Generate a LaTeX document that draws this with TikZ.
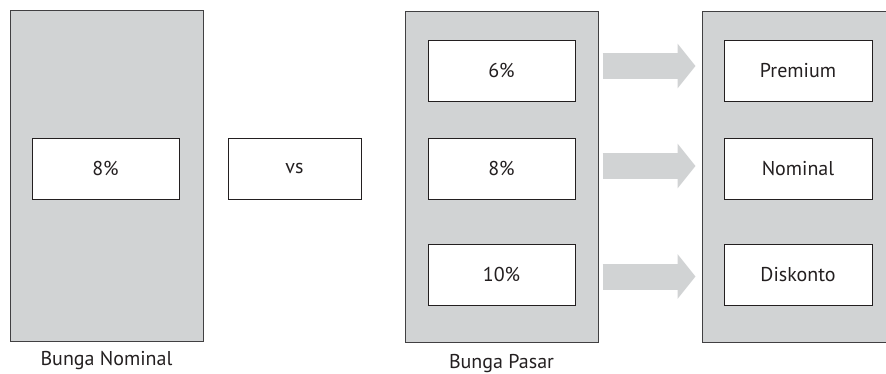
\documentclass[tikz,border=0pt]{standalone}
\usepackage{fontspec}
\setmainfont{PT Sans}
\usetikzlibrary{positioning,arrows.meta}

\definecolor{panelgray}{HTML}{D1D3D4}
\definecolor{linegray}{HTML}{414042}
\definecolor{textdark}{HTML}{231F20}

\tikzset{
  panel/.style={draw=linegray, fill=panelgray, line width=1pt, minimum width=193pt, minimum height=331pt, inner sep=0pt},
  ratebox/.style={draw=textdark, fill=white, line width=1pt, minimum width=147pt, minimum height=61pt, inner sep=0pt, text=textdark, font=\fontsize{20}{22}\selectfont},
  caption/.style={text=textdark, font=\fontsize{20}{22}\selectfont},
  blockarrow/.style={draw=panelgray, line width=26pt, -{Triangle[length=18pt,width=44pt]}}
}

\begin{document}
\begin{tikzpicture}[x=1pt, y=-1pt]
\clip (0,0) rectangle (886,373);
\useasboundingbox (0,0) rectangle (886,373);

% panels
\node[panel] (nominal) at (106.5,176) {};
\node[panel] (pasar) at (501.5,176.5) {};
\node[panel] (hasil) at (798.5,176.5) {};

% boxes
\node[ratebox] (n1) at (105.5,168.5) {8\%};
\node[ratebox, minimum width=133pt] (vs) at (294.5,168.5) {vs};
\node[ratebox] (p1) at (501.5,70.5) {6\%};
\node[ratebox] (p2) at (501.5,168.5) {8\%};
\node[ratebox] (p3) at (501.5,274.5) {10\%};
\node[ratebox, minimum width=148pt] (h1) at (798,70.5) {Premium};
\node[ratebox, minimum width=148pt] (h2) at (798,168.5) {Nominal};
\node[ratebox, minimum width=148pt] (h3) at (798,274.5) {Diskonto};

% arrows
\draw[blockarrow] ([xshift=27pt,yshift=4.5pt]p1.east) -- ([xshift=-28pt,yshift=4.5pt]h1.west);
\draw[blockarrow] ([xshift=27pt,yshift=2.5pt]p2.east) -- ([xshift=-28pt,yshift=2.5pt]h2.west);
\draw[blockarrow] ([xshift=27pt,yshift=-2pt]p3.east) -- ([xshift=-28pt,yshift=-2pt]h3.west);

% labels
\node[caption, below=6pt of nominal] (lnom) {Bunga Nominal};
\node[caption, below=8pt of pasar] (lpas) {Bunga Pasar};
\end{tikzpicture}
\end{document}
